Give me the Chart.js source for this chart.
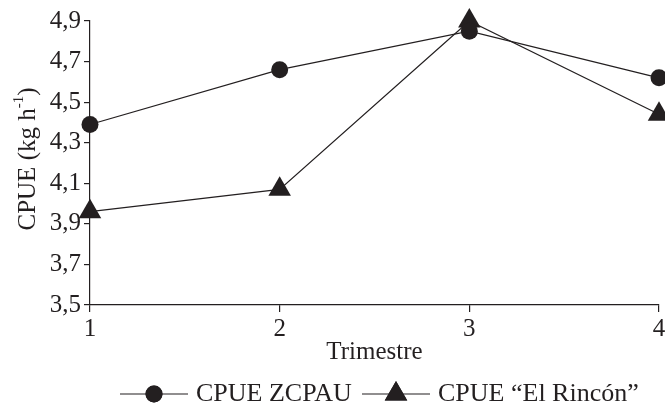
<!DOCTYPE html>
<html>
<head>
<meta charset="utf-8">
<script src="https://cdn.jsdelivr.net/npm/chart.js@4.4.1/dist/chart.umd.min.js"></script>
<style>
  html, body { margin: 0; padding: 0; background: #fff; }
  #wrap { width: 665px; height: 409px; }
</style>
</head>
<body>
<div id="wrap"><canvas id="cpueChart"></canvas></div>
<script>
// datos
const trimestres = ['1', '2', '3', '4'];
const cpueZcpau = [4.39, 4.66, 4.85, 4.62];
const cpueRincon = [3.96, 4.07, 4.90, 4.44];
const yMin = 3.5;
const yMax = 4.9;
const yStep = 0.2;
const legendLabels = ['CPUE ZCPAU', 'CPUE \u201CEl Rinc\u00F3n\u201D'];

const serif = "'Liberation Serif', 'Times New Roman', serif";
const ink = '#231f20';

// titulo del eje y con el superindice
const yTitlePlugin = {
  id: 'yTitle',
  afterDraw(chart) {
    const ctx = chart.ctx;
    ctx.save();
    ctx.translate(28, 159);
    ctx.rotate(-Math.PI / 2);
    ctx.fillStyle = ink;
    ctx.textBaseline = 'middle';
    const main = 'CPUE (kg h';
    const sup = '-1';
    const end = ')';
    ctx.font = '25px ' + serif;
    const wMain = ctx.measureText(main).width;
    const wEnd = ctx.measureText(end).width;
    ctx.font = '15px ' + serif;
    const wSup = ctx.measureText(sup).width;
    let x = -(wMain + wSup + wEnd) / 2;
    ctx.font = '25px ' + serif;
    ctx.textAlign = 'left';
    ctx.fillText(main, x, 0);
    x += wMain;
    ctx.font = '15px ' + serif;
    ctx.fillText(sup, x, -9);
    x += wSup;
    ctx.font = '25px ' + serif;
    ctx.fillText(end, x, 0);
    ctx.restore();
  }
};

// leyenda abajo: linea - marcador - linea + texto
const legendPlugin = {
  id: 'lineLegend',
  afterDraw(chart) {
    const ctx = chart.ctx;
    const y = 394;
    const items = [
      { x0: 120, x1: 188, text: legendLabels[0], style: 'circle', r: 8.5 },
      { x0: 362, x1: 430, text: legendLabels[1], style: 'triangle', r: 13 }
    ];
    ctx.save();
    items.forEach(it => {
      ctx.strokeStyle = ink;
      ctx.lineWidth = 1.2;
      ctx.beginPath();
      ctx.moveTo(it.x0, y);
      ctx.lineTo(it.x1, y);
      ctx.stroke();
      ctx.fillStyle = ink;
      Chart.helpers.drawPoint(ctx, { pointStyle: it.style, radius: it.r, borderWidth: 0 }, (it.x0 + it.x1) / 2, y);
      ctx.fill();
      ctx.font = '26px ' + serif;
      ctx.textAlign = 'left';
      ctx.textBaseline = 'middle';
      ctx.fillText(it.text, it.x1 + 8, y);
    });
    ctx.restore();
  }
};

const ctx = document.getElementById('cpueChart').getContext('2d');

new Chart(ctx, {
  type: 'line',
  data: {
    labels: trimestres,
    datasets: [
      {
        label: legendLabels[0],
        data: cpueZcpau,
        borderColor: ink,
        borderWidth: 1.2,
        backgroundColor: ink,
        pointStyle: 'circle',
        pointRadius: 8.5,
        pointBorderWidth: 0,
        tension: 0,
        clip: false
      },
      {
        label: legendLabels[1],
        data: cpueRincon,
        borderColor: ink,
        borderWidth: 1.2,
        backgroundColor: ink,
        pointStyle: 'triangle',
        pointRadius: 13,
        pointBorderWidth: 0,
        tension: 0,
        clip: false
      }
    ]
  },
  options: {
    responsive: true,
    maintainAspectRatio: false,
    animation: false,
    layout: { autoPadding: false, padding: { top: 21, right: 6, left: 0, bottom: 40 } },
    plugins: {
      legend: { display: false },
      tooltip: { enabled: false }
    },
    scales: {
      x: {
        offset: false,
        grid: { display: true, drawOnChartArea: false, drawTicks: true, tickLength: 7, color: ink, lineWidth: 1.2 },
        border: { color: ink, width: 1.2 },
        ticks: { color: ink, font: { family: serif, size: 25 }, padding: 2, maxRotation: 0 },
        title: { display: true, text: 'Trimestre', color: ink, font: { family: serif, size: 25 }, padding: { top: 0, bottom: 2 } },
        afterFit(scale) {
          scale.height = 64;
          scale.paddingRight = 0;
          scale.paddingLeft = 0;
        }
      },
      y: {
        min: yMin,
        max: yMax,
        grid: { display: true, drawOnChartArea: false, drawTicks: true, tickLength: 6, color: ink, lineWidth: 1.2 },
        border: { color: ink, width: 1.2 },
        ticks: {
          stepSize: yStep,
          color: ink,
          font: { family: serif, size: 25 },
          padding: 3,
          callback: v => v.toFixed(1).replace('.', ',')
        },
        afterFit(scale) {
          scale.width = 90;
          scale.paddingTop = 0;
          scale.paddingBottom = 0;
        }
      }
    }
  },
  plugins: [yTitlePlugin, legendPlugin]
});
</script>
</body>
</html>
